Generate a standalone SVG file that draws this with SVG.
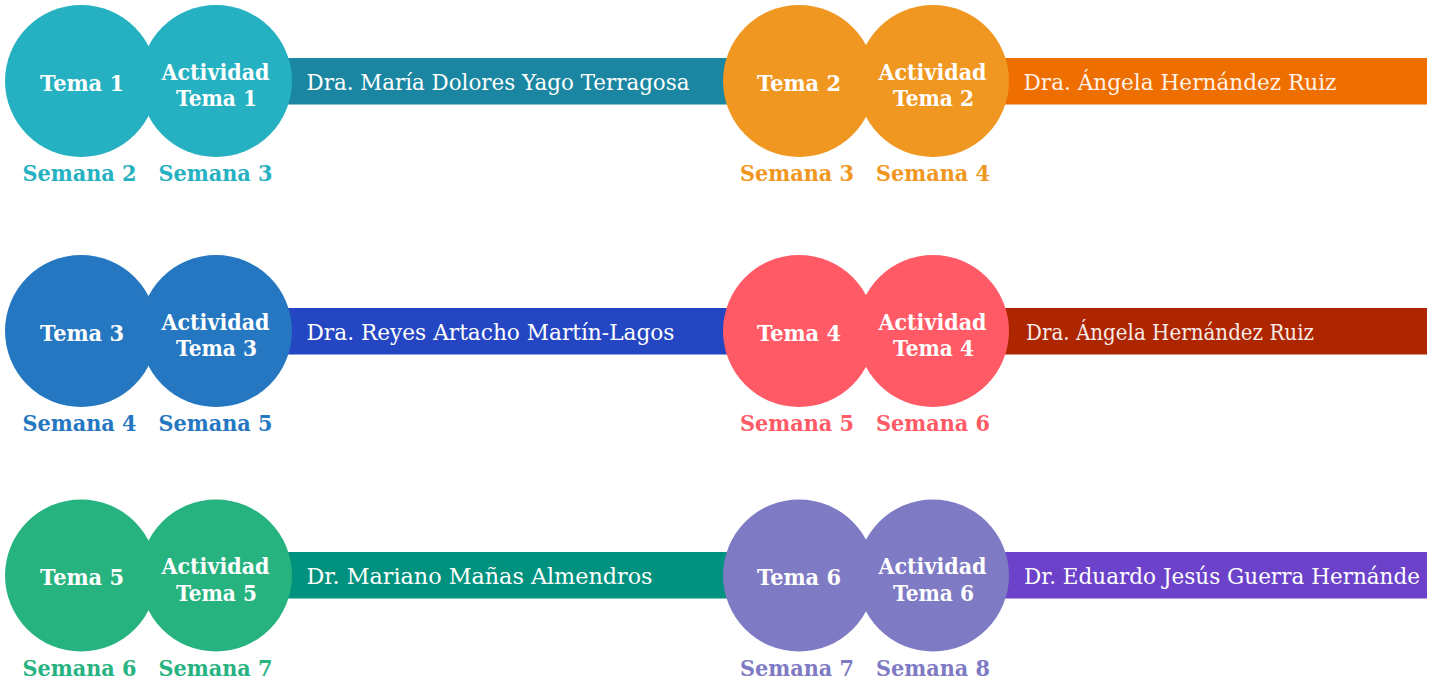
<svg xmlns="http://www.w3.org/2000/svg" width="1431" height="681" viewBox="0 0 1431 681">
<style>
.lbl{font-family:"DejaVu Serif","Liberation Serif",serif;font-weight:bold;font-size:22px;fill:#ffffff;text-anchor:middle}
.sem{font-family:"DejaVu Serif","Liberation Serif",serif;font-weight:bold;font-size:23px;text-anchor:middle}
.name{font-family:"DejaVu Serif","Liberation Serif",serif;font-weight:normal;font-size:23px;fill:#ffffff}
.name2{font-family:"DejaVu Serif","Liberation Serif",serif;font-weight:normal;font-size:23px;fill:#ffffff;fill-opacity:0.92}
</style>
<rect width="1431" height="681" fill="#ffffff"/>

<!-- bars (teacher names) -->
<g id="docente-tema1">
  <rect x="216" y="58" width="584" height="46.5" fill="#1A86A1"/>
  <text class="name" x="306.5" y="89.5" textLength="383" lengthAdjust="spacingAndGlyphs">Dra. María Dolores Yago Terragosa</text>
</g>
<g id="docente-tema2">
  <rect x="933" y="58" width="494" height="46.5" fill="#EF6E00"/>
  <text class="name2" x="1023.5" y="89.5" textLength="313" lengthAdjust="spacingAndGlyphs">Dra. Ángela Hernández Ruiz</text>
</g>
<g id="docente-tema3">
  <rect x="216" y="308" width="584" height="46.5" fill="#2446C2"/>
  <text class="name" x="306.5" y="339.5" textLength="368" lengthAdjust="spacingAndGlyphs">Dra. Reyes Artacho Martín-Lagos</text>
</g>
<g id="docente-tema4">
  <rect x="933" y="308" width="494" height="46.5" fill="#AD2600"/>
  <text class="name2" x="1026" y="339.5" textLength="288" lengthAdjust="spacingAndGlyphs">Dra. Ángela Hernández Ruiz</text>
</g>
<g id="docente-tema5">
  <rect x="216" y="552" width="584" height="46.5" fill="#00927E"/>
  <text class="name" x="306.5" y="584" textLength="346" lengthAdjust="spacingAndGlyphs">Dr. Mariano Mañas Almendros</text>
</g>
<g id="docente-tema6">
  <rect x="933" y="552" width="494" height="46.5" fill="#6B42C9"/>
  <text class="name" x="1024" y="584" textLength="396" lengthAdjust="spacingAndGlyphs">Dr. Eduardo Jesús Guerra Hernánde</text>
</g>

<!-- Tema 1 -->
<g id="tema1">
  <circle cx="81" cy="81" r="76" fill="#25B1C1"/>
  <circle cx="216" cy="81" r="76" fill="#25B1C1"/>
  <text class="lbl" x="82" y="90.5" textLength="84" lengthAdjust="spacingAndGlyphs">Tema 1</text>
  <text class="lbl" x="215.5" y="79.5" textLength="108" lengthAdjust="spacingAndGlyphs">Actividad</text>
  <text class="lbl" x="216.5" y="106" textLength="81" lengthAdjust="spacingAndGlyphs">Tema 1</text>
  <text class="sem" fill="#25B1C1" x="79.5" y="181" textLength="114" lengthAdjust="spacingAndGlyphs">Semana 2</text>
  <text class="sem" fill="#25B1C1" x="215.5" y="181" textLength="114" lengthAdjust="spacingAndGlyphs">Semana 3</text>
</g>

<!-- Tema 2 -->
<g id="tema2">
  <circle cx="799" cy="81" r="76" fill="#F09722"/>
  <circle cx="933" cy="81" r="76" fill="#F09722"/>
  <text class="lbl" x="799" y="90.5" textLength="84" lengthAdjust="spacingAndGlyphs">Tema 2</text>
  <text class="lbl" x="932.5" y="79.5" textLength="108" lengthAdjust="spacingAndGlyphs">Actividad</text>
  <text class="lbl" x="933.5" y="106" textLength="81" lengthAdjust="spacingAndGlyphs">Tema 2</text>
  <text class="sem" fill="#F09722" x="797" y="181" textLength="114" lengthAdjust="spacingAndGlyphs">Semana 3</text>
  <text class="sem" fill="#F09722" x="933" y="181" textLength="114" lengthAdjust="spacingAndGlyphs">Semana 4</text>
</g>

<!-- Tema 3 -->
<g id="tema3">
  <circle cx="81" cy="331" r="76" fill="#2577C1"/>
  <circle cx="216" cy="331" r="76" fill="#2577C1"/>
  <text class="lbl" x="82" y="340.5" textLength="84" lengthAdjust="spacingAndGlyphs">Tema 3</text>
  <text class="lbl" x="215.5" y="329.5" textLength="108" lengthAdjust="spacingAndGlyphs">Actividad</text>
  <text class="lbl" x="216.5" y="356" textLength="81" lengthAdjust="spacingAndGlyphs">Tema 3</text>
  <text class="sem" fill="#2577C1" x="79.5" y="431" textLength="114" lengthAdjust="spacingAndGlyphs">Semana 4</text>
  <text class="sem" fill="#2577C1" x="215.5" y="431" textLength="114" lengthAdjust="spacingAndGlyphs">Semana 5</text>
</g>

<!-- Tema 4 -->
<g id="tema4">
  <circle cx="799" cy="331" r="76" fill="#FF5A66"/>
  <circle cx="933" cy="331" r="76" fill="#FF5A66"/>
  <text class="lbl" x="799" y="340.5" textLength="84" lengthAdjust="spacingAndGlyphs">Tema 4</text>
  <text class="lbl" x="932.5" y="329.5" textLength="108" lengthAdjust="spacingAndGlyphs">Actividad</text>
  <text class="lbl" x="933.5" y="356" textLength="81" lengthAdjust="spacingAndGlyphs">Tema 4</text>
  <text class="sem" fill="#FF5A66" x="797" y="431" textLength="114" lengthAdjust="spacingAndGlyphs">Semana 5</text>
  <text class="sem" fill="#FF5A66" x="933" y="431" textLength="114" lengthAdjust="spacingAndGlyphs">Semana 6</text>
</g>

<!-- Tema 5 -->
<g id="tema5">
  <circle cx="81" cy="575.5" r="76" fill="#27B37F"/>
  <circle cx="216" cy="575.5" r="76" fill="#27B37F"/>
  <text class="lbl" x="82" y="585" textLength="84" lengthAdjust="spacingAndGlyphs">Tema 5</text>
  <text class="lbl" x="215.5" y="574" textLength="108" lengthAdjust="spacingAndGlyphs">Actividad</text>
  <text class="lbl" x="216.5" y="600.5" textLength="81" lengthAdjust="spacingAndGlyphs">Tema 5</text>
  <text class="sem" fill="#27B37F" x="79.5" y="675.5" textLength="114" lengthAdjust="spacingAndGlyphs">Semana 6</text>
  <text class="sem" fill="#27B37F" x="215.5" y="675.5" textLength="114" lengthAdjust="spacingAndGlyphs">Semana 7</text>
</g>

<!-- Tema 6 -->
<g id="tema6">
  <circle cx="799" cy="575.5" r="76" fill="#7F7AC4"/>
  <circle cx="933" cy="575.5" r="76" fill="#7F7AC4"/>
  <text class="lbl" x="799" y="585" textLength="84" lengthAdjust="spacingAndGlyphs">Tema 6</text>
  <text class="lbl" x="932.5" y="574" textLength="108" lengthAdjust="spacingAndGlyphs">Actividad</text>
  <text class="lbl" x="933.5" y="600.5" textLength="81" lengthAdjust="spacingAndGlyphs">Tema 6</text>
  <text class="sem" fill="#7F7AC4" x="797" y="675.5" textLength="114" lengthAdjust="spacingAndGlyphs">Semana 7</text>
  <text class="sem" fill="#7F7AC4" x="933" y="675.5" textLength="114" lengthAdjust="spacingAndGlyphs">Semana 8</text>
</g>
</svg>
